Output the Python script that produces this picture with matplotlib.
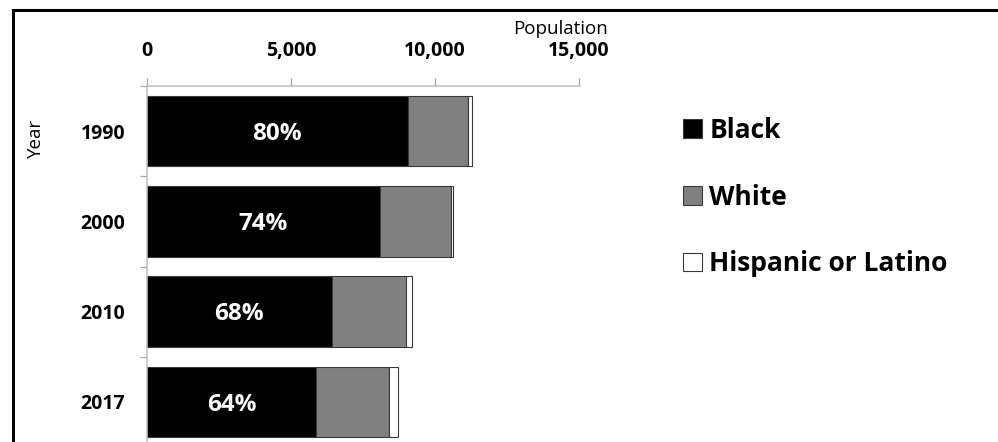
import matplotlib
matplotlib.use("Agg")
import matplotlib.pyplot as plt
from matplotlib.lines import Line2D
import numpy as np

plt.rcParams['font.family'] = ['Open Sans', 'DejaVu Sans']

# =========================
# data
# =========================
years = ["1990", "2000", "2010", "2017"]
black = [9050, 8090, 6410, 5860]
white = [2110, 2455, 2570, 2535]
hispanic = [130, 90, 230, 315]
pct_labels = ["80%", "74%", "68%", "64%"]
x_ticks = [0, 5000, 10000, 15000]

W, H = 998, 442
fig = plt.figure(figsize=(W / 100, H / 100), dpi=100)

# axes placed in pixel terms (plot area runs a bit below the picture)
ax_l, ax_r, ax_t, ax_b = 147, 579, 86, 447
ax = fig.add_axes([ax_l / W, 1 - ax_b / H, (ax_r - ax_l) / W, (ax_b - ax_t) / H])

y = np.arange(len(years))
edge = "#3a3a3a"
b1 = ax.barh(y, black, height=0.78, color="black", edgecolor=edge, linewidth=0.8, label="Black")
left2 = np.array(black)
b2 = ax.barh(y, white, left=left2, height=0.78, color="#808080", edgecolor=edge, linewidth=0.8, label="White")
left3 = left2 + np.array(white)
b3 = ax.barh(y, hispanic, left=left3, height=0.78, color="white", edgecolor=edge, linewidth=0.8,
             label="Hispanic or Latino")

anns = ax.bar_label(b1, labels=pct_labels, label_type="center", color="white",
                    fontsize=17.5, fontweight="bold")
for a in anns:
    a.xyann = (0, -2)

ax.set_xlim(0, 15000)
ax.set_ylim(len(years) - 0.5, -0.5)

# x axis on top
ax.xaxis.tick_top()
ax.set_xticks(x_ticks)
ax.xaxis.set_major_formatter(matplotlib.ticker.StrMethodFormatter("{x:,.0f}"))
ax.tick_params(axis="x", which="major", direction="out", length=5.8, width=0.9,
               color="#a6a6a6", pad=12, labelsize=14)
for t in ax.get_xticklabels():
    t.set_fontweight("bold")

# y axis: labels at bar centres, small ticks between categories
ax.set_yticks(y)
ax.set_yticklabels(years)
ax.set_yticks(np.arange(-0.5, len(years) + 0.5, 1), minor=True)
ax.tick_params(axis="y", which="major", length=0, pad=15.8, labelsize=14)
ax.tick_params(axis="y", which="minor", direction="out", length=5.2, width=0.9, color="#a6a6a6")
for t in ax.get_yticklabels():
    t.set_fontweight("bold")

for s in ["right", "bottom"]:
    ax.spines[s].set_visible(False)
for s in ["top", "left"]:
    ax.spines[s].set_color("#bfbfbf")
    ax.spines[s].set_linewidth(1.1)

ax.xaxis.set_label_position("top")
ax.set_xlabel("Population", fontsize=13.5, ha="right", va="center")
ax.xaxis.set_label_coords((608 - ax_l) / (ax_r - ax_l), 1 + (ax_t - 29) / (ax_b - ax_t))
ax.set_ylabel("Year", fontsize=13.5, va="center", ha="center")
ax.yaxis.set_label_coords((36 - ax_l) / (ax_r - ax_l), (ax_b - 138) / (ax_b - ax_t))

leg = fig.legend(handles=[b1, b2, b3], loc="upper left",
                 bbox_to_anchor=(683 / W, 1 - 117 / H), frameon=False,
                 prop={"size": 19, "weight": "bold"}, handlelength=0.72, handleheight=0.72,
                 handletextpad=0.27, labelspacing=1.5, borderpad=0, borderaxespad=0)

# outer frame (only left and top visible in the crop)
fx, fy = 12.5 / W, 1 - 9.5 / H
fig.add_artist(Line2D([fx, fx], [-0.1, fy], transform=fig.transFigure, color="black", lw=2.2))
fig.add_artist(Line2D([fx, 1.1], [fy, fy], transform=fig.transFigure, color="black", lw=2.2))

fig.savefig("out.png", dpi=100)
